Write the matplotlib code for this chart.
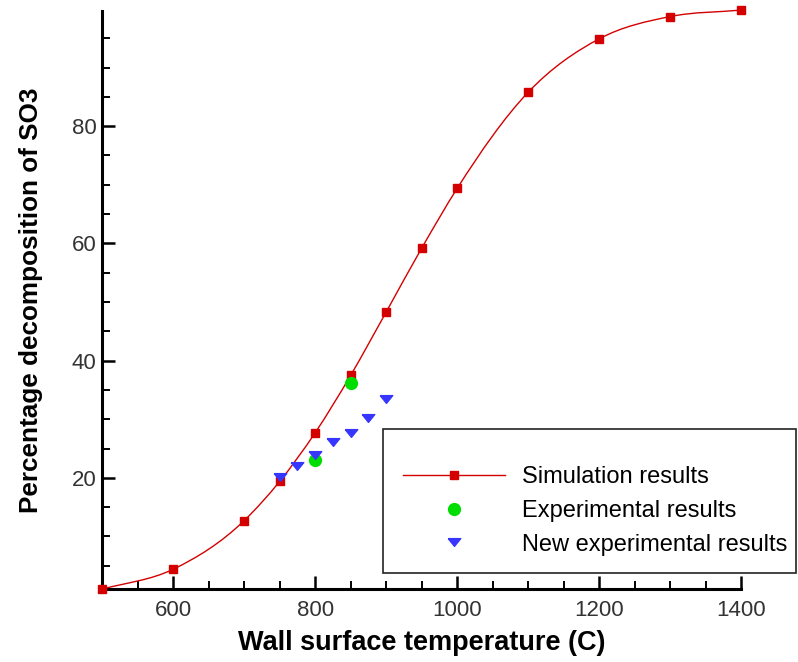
import matplotlib
matplotlib.use("Agg")
import numpy as np
import matplotlib.pyplot as plt
from matplotlib.lines import Line2D
from matplotlib.path import Path
from matplotlib.patches import PathPatch, Rectangle
from matplotlib.ticker import MultipleLocator

plt.rcParams["font.family"] = ["Liberation Sans", "DejaVu Sans"]

# simulation curve (wall temperature in C, % SO3 decomposed)
sim_temp = [500, 600, 700, 750, 800, 850, 900, 950, 1000, 1100, 1200, 1300, 1400]
sim_pct = [1.0, 4.4, 12.7, 19.4, 27.7, 37.5, 48.3, 59.2, 69.4, 85.8, 94.9, 98.7, 99.8]

# earlier experiments
exp_temp = [800, 850]
exp_pct = [23.0, 36.2]

# new experiments
new_temp = [750, 775, 800, 825, 850, 875, 900]
new_pct = [20.2, 22.0, 23.9, 26.1, 27.7, 30.2, 33.4]

RED = "#d40000"
GREEN = "#00dd00"
BLUE = "#3636ff"

# flattened downward triangle
tri = [(-1.0, 0.62), (1.0, 0.62), (0.0, -0.62), (-1.0, 0.62)]


def smooth_path(xs, ys):
    # cubic Hermite curve through the points, written as Bezier segments
    xs = np.asarray(xs, float)
    ys = np.asarray(ys, float)
    slope = np.gradient(ys, xs)
    verts = [(xs[0], ys[0])]
    codes = [Path.MOVETO]
    for i in range(len(xs) - 1):
        h = xs[i + 1] - xs[i]
        verts += [(xs[i] + h / 3, ys[i] + slope[i] * h / 3),
                  (xs[i + 1] - h / 3, ys[i + 1] - slope[i + 1] * h / 3),
                  (xs[i + 1], ys[i + 1])]
        codes += [Path.CURVE4] * 3
    return Path(verts, codes)


fig = plt.figure(figsize=(7.98, 6.62), dpi=100)
ax = fig.add_axes([0.128, 0.110, 0.801, 0.873])

ax.add_patch(PathPatch(smooth_path(sim_temp, sim_pct), fill=False, edgecolor=RED,
                       lw=1.0, clip_on=False, zorder=2))
ax.plot(sim_temp, sim_pct, ls="none", marker="s", ms=6, color=RED, clip_on=False, zorder=3)
ax.plot(exp_temp, exp_pct, ls="none", marker="o", ms=8.5, color=GREEN, zorder=4)
ax.plot(new_temp, new_pct, ls="none", marker=tri, ms=9, color=BLUE, zorder=5)

ax.set_xlim(500, 1400)
ax.set_ylim(1, 99.6)
ax.xaxis.set_minor_locator(MultipleLocator(50))
ax.yaxis.set_minor_locator(MultipleLocator(5))
ax.set_xticks([600, 800, 1000, 1200, 1400])
ax.set_yticks([20, 40, 60, 80])

for side in ("top", "right"):
    ax.spines[side].set_visible(False)
for side in ("left", "bottom"):
    ax.spines[side].set_linewidth(2.2)

ax.tick_params(which="major", direction="in", length=9.5, width=1.8, labelsize=16,
               colors="black", labelcolor="#333333")
ax.tick_params(axis="x", which="major", pad=8)
ax.tick_params(axis="y", which="major", pad=4)
ax.tick_params(which="minor", direction="in", length=6, width=1.4)

ax.set_xlabel("Wall surface temperature (C)", fontsize=19.5, fontweight="bold", labelpad=6)
ax.set_ylabel("Percentage decomposition of SO3", fontsize=18.8, fontweight="bold", labelpad=21)

# legend box sits partly outside the axes
fig.patches.append(Rectangle((0.480, 0.135), 0.518, 0.217, transform=fig.transFigure,
                             fill=False, edgecolor="#222222", lw=1.2, zorder=10))
handles = [
    Line2D([], [], color=RED, lw=1.0, marker="s", ms=6),
    Line2D([], [], ls="none", color=GREEN, marker="o", ms=8.5),
    Line2D([], [], ls="none", color=BLUE, marker=tri, ms=9),
]
labels = ["Simulation results", "Experimental results", "New experimental results"]
fig.legend(handles, labels, loc="upper left", bbox_to_anchor=(0.505, 0.296), frameon=False,
           fontsize=17, handlelength=4.3, handletextpad=0.72, labelspacing=0.5,
           borderpad=0, borderaxespad=0)

fig.savefig("out.png", dpi=100)
